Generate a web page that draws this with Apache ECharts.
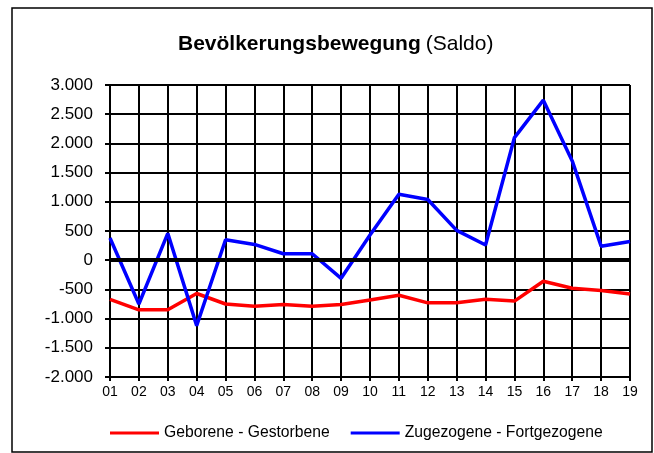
<!DOCTYPE html>
<html>
<head>
<meta charset="utf-8">
<script src="https://cdn.jsdelivr.net/npm/echarts@6/dist/echarts.min.js"></script>
<style>
html, body { margin: 0; padding: 0; background: #fff; }
#container { width: 654px; height: 453px; }
</style>
</head>
<body>
<div id="container"></div>
<script>
var dom = document.getElementById("container");
var myChart = echarts.init(dom);

var years = ['01', '02', '03', '04', '05', '06', '07', '08', '09', '10',
             '11', '12', '13', '14', '15', '16', '17', '18', '19'];
// Geborene - Gestorbene
var natural = [-670, -850, -850, -570, -750, -790, -760, -790, -760, -680,
               -600, -730, -730, -670, -700, -360, -480, -520, -580];
// Zugezogene - Fortgezogene
var migration = [380, -750, 460, -1120, 350, 270, 110, 110, -310, 430,
                 1130, 1040, 510, 260, 2100, 2740, 1700, 240, 320];
var seriesNames = ['Geborene - Gestorbene', 'Zugezogene - Fortgezogene'];

var font = 'Liberation Sans, Arial, sans-serif';

function fmt(v) {
    var s = Math.abs(v).toString().replace(/\B(?=(\d{3})+(?!\d))/g, '.');
    return (v < 0 ? '-' : '') + s;
}

var option = {
    animation: false,
    backgroundColor: '#fff',
    title: {
        text: '{b|Bevölkerungsbewegung} {n|(Saldo)}',
        left: 173,
        top: 29,
        textStyle: {
            rich: {
                b: { fontFamily: font, fontSize: 21, fontWeight: 'bold', color: '#000' },
                n: { fontFamily: font, fontSize: 21, fontWeight: 'normal', color: '#000' }
            }
        }
    },
    graphic: [{
        type: 'rect',
        shape: { x: 12, y: 8, width: 640, height: 444 },
        style: { fill: null, stroke: '#000', lineWidth: 1.5 },
        silent: true
    }],
    legend: {
        top: 425,
        left: 110,
        padding: 0,
        icon: 'rect',
        itemWidth: 49,
        itemHeight: 3,
        itemGap: 21,
        textStyle: { fontFamily: font, fontSize: 15.7, color: '#000' },
        data: seriesNames
    },
    grid: { left: 110, right: 24, top: 85, bottom: 76 },
    xAxis: {
        type: 'category',
        data: years,
        boundaryGap: false,
        axisLine: { onZero: false, lineStyle: { color: '#000', width: 2 } },
        axisTick: { show: true, length: 4, alignWithLabel: true, lineStyle: { color: '#000', width: 2 } },
        axisLabel: { fontFamily: font, fontSize: 14, color: '#000', margin: 8 },
        splitLine: { show: true, lineStyle: { color: '#000', width: 2 } }
    },
    yAxis: {
        type: 'value',
        min: -2000,
        max: 3000,
        interval: 500,
        axisLine: { show: true, lineStyle: { color: '#000', width: 2 } },
        axisTick: { show: true, length: 5, lineStyle: { color: '#000', width: 2 } },
        axisLabel: { fontFamily: font, fontSize: 17, color: '#000', margin: 17, formatter: fmt },
        splitLine: { show: true, lineStyle: { color: '#000', width: 2 } }
    },
    series: [{
        name: seriesNames[0],
        type: 'line',
        data: natural,
        showSymbol: false,
        symbol: 'none',
        itemStyle: { color: '#ff0000' },
        lineStyle: { color: '#ff0000', width: 3.5 },
        markLine: {
            silent: true,
            symbol: 'none',
            label: { show: false },
            lineStyle: { color: '#000', width: 4, type: 'solid' },
            data: [{ yAxis: 0 }]
        },
        z: 3
    }, {
        name: seriesNames[1],
        type: 'line',
        data: migration,
        showSymbol: false,
        symbol: 'none',
        itemStyle: { color: '#0000ff' },
        lineStyle: { color: '#0000ff', width: 3.5 },
        z: 4
    }]
};
myChart.setOption(option, true);
</script>
</body>
</html>
